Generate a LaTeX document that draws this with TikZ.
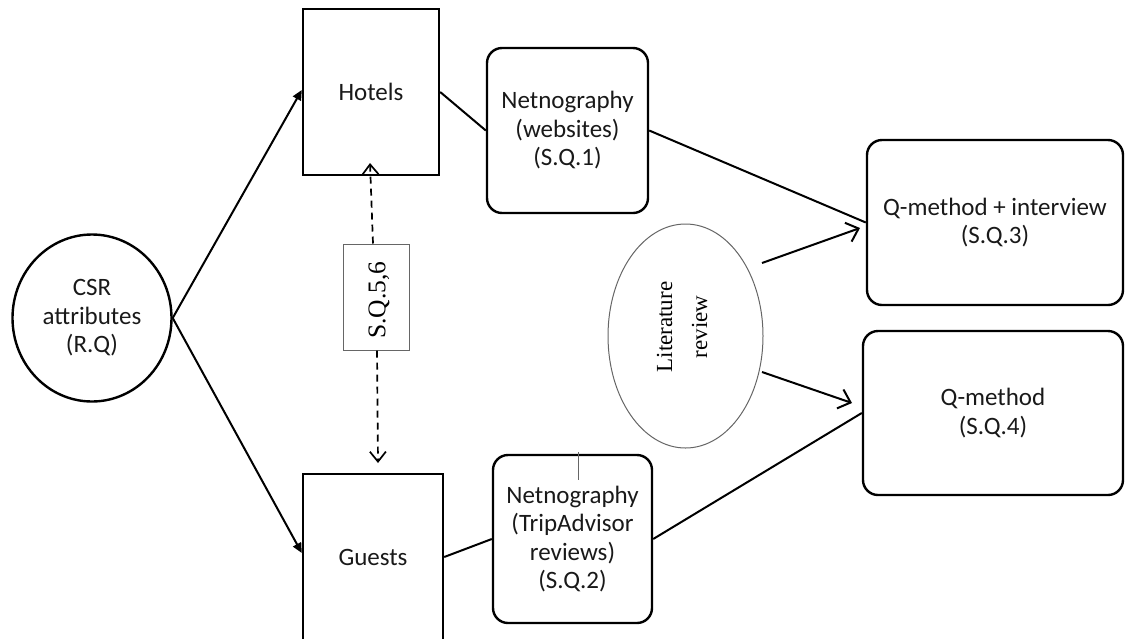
\documentclass[tikz,border=0pt]{standalone}
\usepackage{fontspec}
\setmainfont{Carlito}
\newfontfamily\seriffam{Liberation Serif}
\usetikzlibrary{arrows.meta,shapes.geometric,calc}
\begin{document}
\begin{tikzpicture}[x=1pt,y=-1pt,
  txt/.style={font=\fontsize{25}{28.5}\selectfont, align=center, text=black!90},
  box/.style={draw, line width=2.4pt, inner sep=0pt, txt},
  rbox/.style={box, rounded corners=15pt},
  conn/.style={line width=2pt},
  fillarrow/.style={conn, -{Triangle[length=10pt,width=9pt]}},
  openarrow/.style={conn, -{Straight Barb[length=11pt,width=20pt]}},
  dasharrow/.style={line width=1.7pt, dash pattern=on 7pt off 5pt, -{Straight Barb[length=10pt,width=16pt]}},
  thinbox/.style={draw=black!60, line width=1pt, inner sep=0pt}
]
\useasboundingbox (0,0) rectangle (1127,638);
\clip (0,0) rectangle (1127,638);

% nodes
\node[box, shape=ellipse, minimum width=159pt, minimum height=167pt] (csr) at (92,318) {CSR\\attributes\\(R.Q)};
\node[box, minimum width=136pt, minimum height=166pt] (hotels) at (371,92) {Hotels};
\node[box, minimum width=140pt, minimum height=166pt] (guests) at (373,557) {Guests};
\node[thinbox, minimum width=66pt, minimum height=106pt] (sq) at (376,297) {};
\node[rotate=90, font=\seriffam\fontsize{25.5}{28}\selectfont, inner sep=0pt] (sqtext) at (379,300) {S.Q.5,6};
\node[rbox, minimum width=161pt, minimum height=165pt] (web) at (567.5,130.5) {Netnography\\(websites)\\(S.Q.1)};
\node[rbox, minimum width=159pt, minimum height=168pt] (trip) at (572.5,539) {Netnography\\(TripAdvisor\\reviews)\\(S.Q.2)};
\node[thinbox, shape=ellipse, minimum width=155pt, minimum height=224pt] (lit) at (685.5,336) {};
\node[rotate=90, font=\seriffam\fontsize{23}{35}\selectfont, align=center, inner sep=0pt] (littext) at (682,327) {Literature\\review};
\node[rbox, minimum width=256pt, minimum height=165pt] (qmi) at (995,222.5) {Q-method + interview\\(S.Q.3)};
\node[rbox, minimum width=260pt, minimum height=164pt] (qm) at (993,413) {Q-method\\(S.Q.4)};

% free ends
\coordinate (hup) at (370,163);
\coordinate (gdown) at (378,463);
\coordinate (l1s) at (762,263);
\coordinate (l1e) at (860,228);
\coordinate (l2s) at (762,372);
\coordinate (l2e) at (852,403);

% connectors
\draw[fillarrow] (csr.east) -- ($(hotels.west)+(0,-2)$);
\draw[fillarrow] (csr.east) -- ($(guests.west)+(0,-4)$);
\draw[dasharrow] ($(sq.north)+(-3,0)$) -- (hup);
\draw[dasharrow] ($(sq.south)+(1,0)$) -- (gdown);
\draw[conn] (hotels.east) -- (web.west);
\draw[conn] (web.east) -- (qmi.west);
\draw[conn] (guests.east) -- (trip.west);
\draw[conn] (trip.east) -- (qm.west);
\draw[openarrow] (l1s) -- (l1e);
\draw[openarrow] (l2s) -- (l2e);
\draw[black!60, line width=1pt] ($(trip.north)+(5.5,-2)$) -- ++(0,28);
\end{tikzpicture}
\end{document}
